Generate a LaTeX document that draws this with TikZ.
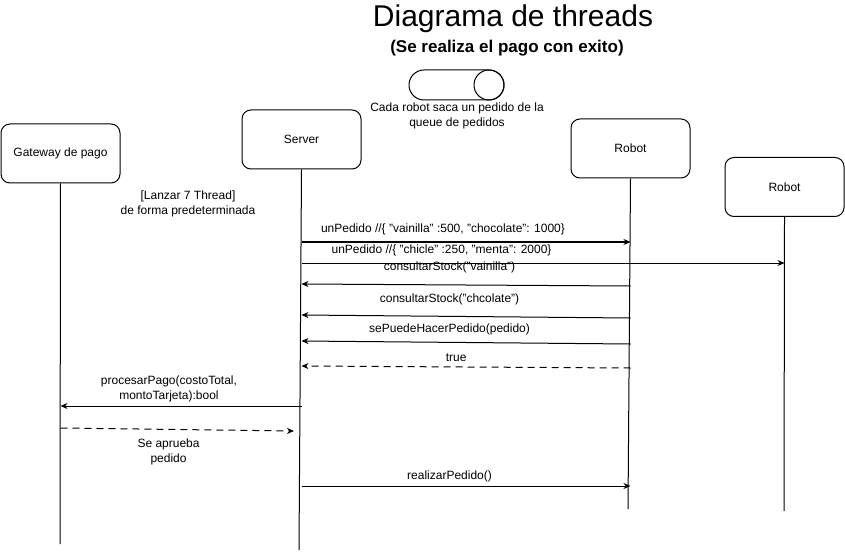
\documentclass[tikz,border=0pt]{standalone}
\usepackage{fontspec}
\setmainfont{Liberation Sans}
\usetikzlibrary{arrows.meta}
\begin{document}
\begin{tikzpicture}[x=1pt, y=-1pt, >={Stealth[length=7pt,width=6pt]},
    lane/.style={draw, line width=1pt, rounded corners=9pt, minimum width=119pt, minimum height=59pt,
        font=\fontsize{12}{14}\selectfont},
    life/.style={line width=1pt},
    msg/.style={->, line width=1pt},
    reply/.style={->, line width=1pt, dash pattern=on 7pt off 5pt},
    lbl/.style={font=\fontsize{12}{15}\selectfont, align=center, inner sep=1pt}]
    \useasboundingbox (0,0) rectangle (845,553);

    % title
    \node (title) at (513,19) {\fontsize{30}{33}\selectfont Diagrama de threads};
    \node (subtitle) at (507,48) {\fontsize{17}{20}\selectfont\bfseries (Se realiza el pago con exito)};

    % queue toggle
    \draw[line width=1pt, rounded corners=15pt] (409,70) rectangle (504,100);
    \draw[line width=1pt] (489,85) circle (15);
    \node[lbl] (queue) at (457,116) {Cada robot saca un pedido de la\\queue de pedidos};

    % participants
    \node[lane] (gw) at (60.5,153.5) {Gateway de pago};
    \node[lane] (srv) at (301.5,139.5) {Server};
    \node[lane] (rb1) at (630.5,148.5) {Robot};
    \node[lane] (rb2) at (784.5,187) {Robot};

    % lifelines
    \coordinate (gwEnd) at (60,544);
    \coordinate (srvEnd) at (299,550);
    \coordinate (rb1End) at (628,509);
    \coordinate (rb2End) at (784,511);
    \draw[life] (gw.south) -- (gwEnd);
    \draw[life] (srv.south) -- (srvEnd);
    \draw[life] (rb1.south) -- (rb1End);
    \draw[life] (rb2.south) -- (rb2End);

    \node[lbl] (launch) at (188,204) {[Lanzar 7 Thread]\\de forma predeterminada};

    % messages
    \draw[msg] (srv.south |- 0,242) -- (rb1.south |- 0,242)
        node[lbl, pos=0.43, above=6pt] {unPedido //\{ "vainilla" :500, "chocolate": 1000\}};
    \draw[msg] (srv.south |- 0,263) -- (rb2.south |- 0,263)
        node[lbl, pos=0.29, above=6pt] {unPedido //\{ "chicle" :250, "menta": 2000\}};
    \draw[msg] (rb1.south |- 0,286) -- (srv.south |- 0,284)
        node[lbl, pos=0.55, above=10pt] {consultarStock("vainilla")};
    \draw[msg] (rb1.south |- 0,318) -- (srv.south |- 0,315)
        node[lbl, pos=0.55, above=10pt] {consultarStock("chcolate")};
    \draw[msg] (rb1.south |- 0,344) -- (srv.south |- 0,341)
        node[lbl, pos=0.55, above=6pt] {sePuedeHacerPedido(pedido)};
    \draw[reply] (rb1.south |- 0,368) -- (srv.south |- 0,366)
        node[lbl, pos=0.53, above=4pt] {true};
    \draw[msg] (srv.south |- 0,406) -- (gw.south |- 0,406)
        node[lbl, pos=0.55, above=3pt] {procesarPago(costoTotal,\\montoTarjeta):bool};
    \draw[reply] (gw.south |- 0,428) -- (294,431)
        node[lbl, pos=0.45, below=8pt, xshift=3pt] {Se aprueba\\pedido};
    \draw[msg] (srv.south |- 0,486) -- (rb1.south |- 0,486)
        node[lbl, pos=0.45, above=3pt] {realizarPedido()};
\end{tikzpicture}
\end{document}
